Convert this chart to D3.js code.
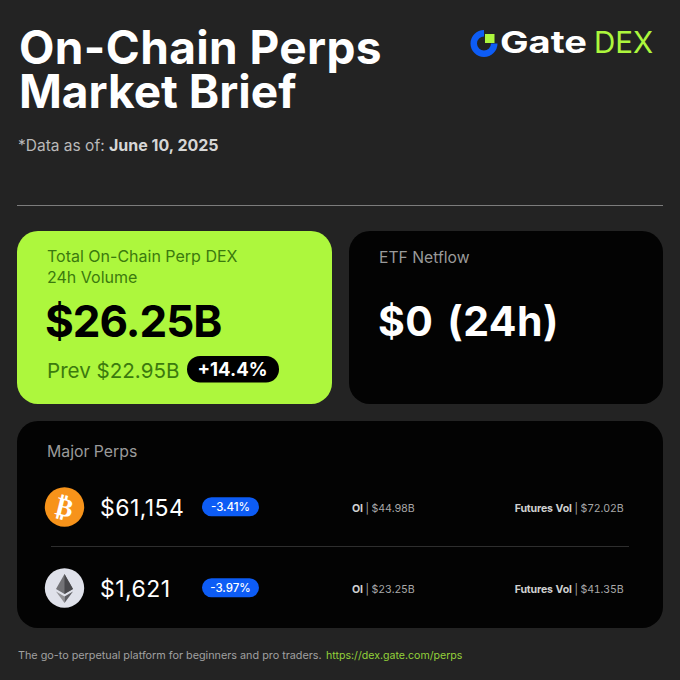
<!DOCTYPE html>
<html>
<head>
<meta charset="utf-8">
<script src="https://cdnjs.cloudflare.com/ajax/libs/d3/7.8.5/d3.min.js"></script>
<style>
  html, body { margin: 0; padding: 0; background: #232323; }
  text { font-family: Inter, "Liberation Sans", sans-serif; }
</style>
</head>
<body>
<div id="viz-container"></div>
<script>
// values
const titleLines = ["On-Chain Perps", "Market Brief"];
const volumeLabel = ["Total On-Chain Perp DEX", "24h Volume"];
const volumeNow = 26.25;
const volumePrev = 22.95;
const volumeChange = 14.4;
const etfNetflow = 0;
const perpNames = ["BTC", "ETH"];
const perpPrices = [61154, 1621];
const perpChanges = [-3.41, -3.97];
const perpOI = [44.98, 23.25];
const perpFutures = [72.02, 41.35];

const green = "#adf73d";
const blue = "#0d5cf5";
const panel = "#030303";

let viz = d3.select("#viz-container")
    .append("svg")
    .attr("width", 680)
    .attr("height", 680)
    .style("display", "block");

viz.append("rect").attr("width", 680).attr("height", 680).attr("fill", "#232323");

function label(parent, x, y, str, size, weight, fill, anchor) {
  return parent.append("text")
    .attr("x", x).attr("y", y)
    .attr("font-size", size)
    .attr("font-weight", weight)
    .attr("fill", fill)
    .attr("text-anchor", anchor || "start")
    .text(str);
}

function pad(parent, x, y, w, h, r, fill) {
  return parent.append("rect")
    .attr("x", x).attr("y", y).attr("width", w).attr("height", h)
    .attr("rx", r).attr("fill", fill);
}

// header
viz.selectAll(".title").data(titleLines).enter()
  .append("text")
    .attr("class", "title")
    .attr("x", 19)
    .attr("y", (d, i) => 64 + i * 44)
    .attr("font-size", 46)
    .attr("font-weight", 700)
    .attr("letter-spacing", (d, i) => i == 0 ? 0.38 : 0)
    .attr("fill", "#fff")
    .text(d => d);

let asOf = label(viz, 18, 151, "*Data as of: ", 15.5, 400, "#b9b9b9");
asOf.append("tspan").attr("font-weight", 700).attr("font-size", 16).attr("fill", "#d6d6d6").text("June 10, 2025");

// logo
let logo = viz.append("g").attr("transform", "translate(484,43.5)");
logo.append("path")
  .attr("d", d3.arc().innerRadius(7).outerRadius(13.5).startAngle(Math.PI * 0.5).endAngle(Math.PI * 2)())
  .attr("fill", blue);
logo.append("rect").attr("x", 1).attr("y", -9.5).attr("width", 9.5).attr("height", 9).attr("fill", green);
label(viz, 0, 0, "Gate", 30, 700, "#fff")
  .attr("transform", "translate(500,53) scale(1.27,1)");
label(viz, 594, 53, "DEX", 29.5, 400, green);

viz.append("line")
  .attr("x1", 17).attr("x2", 663).attr("y1", 205.5).attr("y2", 205.5)
  .attr("stroke", "#7c7c7c").attr("stroke-width", 1);

// volume card
pad(viz, 17, 231, 315, 173, 21, green);
volumeLabel.forEach((s, i) => label(viz, 47, 262 + i * 20.5, s, 16, 400, "#3b7a0e"));
label(viz, 45, 337, `$${volumeNow.toFixed(2)}B`, 44, 700, "#000").attr("letter-spacing", -1);
label(viz, 47, 378, `Prev $${volumePrev.toFixed(2)}B`, 20.6, 400, "#3b7a0e");
pad(viz, 187, 356, 92, 26.5, 13, "#000");
label(viz, 232.5, 376, `+${volumeChange}%`, 18.5, 700, "#fff", "middle");

// etf card
pad(viz, 349, 231, 314, 173, 21, panel);
label(viz, 379, 263, "ETF Netflow", 15.7, 400, "#9a9a9a");
label(viz, 378, 336, `$${etfNetflow} (24h)`, 41, 700, "#fff")
  .attr("letter-spacing", 0.5).attr("word-spacing", 3.5);

// perps panel
pad(viz, 17, 421, 646, 207, 21, panel);
label(viz, 47, 457, "Major Perps", 15.8, 400, "#9a9a9a");

let rowY = d3.scalePoint().domain(perpNames).range([507, 588]);

let rows = viz.selectAll(".perp").data(perpNames).enter()
  .append("g")
    .attr("class", "perp")
    .attr("transform", d => `translate(0,${rowY(d)})`);

rows.append("circle")
  .attr("cx", 64.5).attr("r", 19.7)
  .attr("fill", d => d == "BTC" ? "#f7931a" : "#dfe1ea");

rows.append("text")
  .attr("x", 100).attr("y", 8.8)
  .attr("font-size", 23).attr("letter-spacing", 0.45).attr("fill", "#fff")
  .text((d, i) => "$" + d3.format(",")(perpPrices[i]));

rows.append("rect")
  .attr("x", 202).attr("y", -9.7).attr("width", 57).attr("height", 19).attr("rx", 9.5)
  .attr("fill", blue);

rows.append("text")
  .attr("x", 230.5).attr("y", 4)
  .attr("font-size", 11.5).attr("font-weight", 500).attr("fill", "#fff").attr("text-anchor", "middle")
  .text((d, i) => perpChanges[i].toFixed(2) + "%");

let oi = rows.append("text")
  .attr("x", 352).attr("y", 5)
  .attr("font-size", 10.6).attr("letter-spacing", -0.15).attr("fill", "#a8a8a8")
  .style("font-variant-numeric", "tabular-nums");
oi.append("tspan").attr("font-weight", 700).attr("fill", "#d0d0d0").text("OI");
oi.append("tspan").text((d, i) => ` | $${perpOI[i].toFixed(2)}B`);

let fut = rows.append("text")
  .attr("x", 623.5).attr("y", 5)
  .attr("font-size", 10.6).attr("letter-spacing", -0.15).attr("fill", "#a8a8a8").attr("text-anchor", "end")
  .style("font-variant-numeric", "tabular-nums");
fut.append("tspan").attr("font-weight", 700).attr("fill", "#d0d0d0").text("Futures Vol");
fut.append("tspan").text((d, i) => ` | $${perpFutures[i].toFixed(2)}B`);

viz.append("line")
  .attr("x1", 51).attr("x2", 629).attr("y1", 546.5).attr("y2", 546.5)
  .attr("stroke", "#2e2e2e");

// coin icons
let btc = rows.filter(d => d == "BTC");
btc.append("text")
  .attr("x", 64.5).attr("y", 9)
  .attr("font-size", 26).attr("font-weight", 800).attr("fill", "#fff")
  .attr("text-anchor", "middle")
  .style("font-family", "DejaVu Sans")
  .attr("transform", "rotate(14,64.5,0)")
  .text("\u20bf");

let eth = rows.filter(d => d == "ETH").append("g").attr("transform", "translate(64.5,0)");
eth.append("polygon").attr("points", "0,-14 -8.5,1 0,6 8.5,1").attr("fill", "#737377");
eth.append("polygon").attr("points", "0,-14 0,6 8.5,1").attr("fill", "#48484c");
eth.append("polygon").attr("points", "-8.5,3.5 0,15 0,8.5").attr("fill", "#929296");
eth.append("polygon").attr("points", "8.5,3.5 0,15 0,8.5").attr("fill", "#5e5e63");

// footer
label(viz, 18, 659, "The go-to perpetual platform for beginners and pro traders.", 10.8, 400, "#a0a0a0");
label(viz, 326, 659, "https://dex.gate.com/perps", 10.6, 400, "#93d13a");
</script>
</body>
</html>
